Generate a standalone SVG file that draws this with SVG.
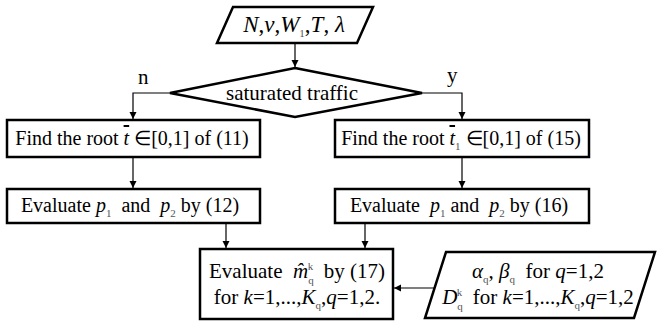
<svg xmlns="http://www.w3.org/2000/svg" width="663" height="327" viewBox="0 0 663 327">
<style>
.shape{fill:#fff;stroke:#000;stroke-width:2.5}
.conn{fill:none;stroke:#000;stroke-width:1.2}
.t{font-size:21px;fill:#000}
.b{font-size:20px}
.it{font-style:italic}
.sub{font-size:11px;fill:#555}
.ov{text-decoration:overline}
</style>
<defs>
<marker id="ah" markerWidth="8" markerHeight="8" refX="7" refY="4" orient="auto" markerUnits="userSpaceOnUse">
<path d="M0,0.5 L7,4 L0,7.5 Z" fill="#000"/>
</marker>
</defs>
<rect width="663" height="327" fill="#fff"/>
<g id="connectors">
<path class="conn" d="M295,43 V67" marker-end="url(#ah)"/>
<path class="conn" d="M170,93 H133 V119" marker-end="url(#ah)"/>
<path class="conn" d="M422,93 H462 V119" marker-end="url(#ah)"/>
<path class="conn" d="M133,158 V188" marker-end="url(#ah)"/>
<path class="conn" d="M462,158 V188" marker-end="url(#ah)"/>
<path class="conn" d="M226,224 V248" marker-end="url(#ah)"/>
<path class="conn" d="M365,224 V248" marker-end="url(#ah)"/>
<path class="conn" d="M441,288 H394" marker-end="url(#ah)"/>
<text class="t" font-family="Liberation Serif" style="font-family:'Liberation Serif',serif" x="138" y="84">n</text>
<text class="t" font-family="Liberation Serif" style="font-family:'Liberation Serif',serif" x="447" y="82">y</text>
</g>
<g id="input">
<polygon class="shape" points="233,7 373,7 357,43 217,43"/>
<text class="t" font-family="Liberation Serif" style="font-family:'Liberation Serif',serif;font-size:23px" x="294" y="32" text-anchor="middle"><tspan class="it">N</tspan>,<tspan class="it">ν</tspan>,<tspan class="it">W</tspan><tspan class="sub" dy="5">1</tspan><tspan dy="-5">,</tspan><tspan class="it">T</tspan>, <tspan class="it">λ</tspan></text>
</g>
<g id="decision">
<polygon class="shape" points="295,68 422,93 295,117 170,93"/>
<text class="t" font-family="Liberation Serif" style="font-family:'Liberation Serif',serif" x="292" y="100" text-anchor="middle">saturated traffic</text>
</g>
<g id="root11">
<rect class="shape" x="7" y="120" width="253" height="37"/>
<text class="t b" font-family="Liberation Serif" style="font-family:'Liberation Serif',serif" x="132" y="145" text-anchor="middle">Find the root <tspan class="it ov">t</tspan> ∈[0,1] of (11)</text>
</g>
<g id="root15">
<rect class="shape" x="335" y="120" width="254" height="37"/>
<text class="t b" font-family="Liberation Serif" style="font-family:'Liberation Serif',serif" x="461" y="145" text-anchor="middle">Find the root <tspan class="it ov">t</tspan><tspan class="sub" dy="5">1</tspan><tspan dy="-5"> ∈[0,1] of (15)</tspan></text>
</g>
<g id="eval12">
<rect class="shape" x="7" y="189" width="253" height="34"/>
<text class="t b" font-family="Liberation Serif" style="font-family:'Liberation Serif',serif" x="130" y="212" text-anchor="middle">Evaluate <tspan class="it">p</tspan><tspan class="sub" dy="5">1</tspan><tspan dy="-5">&#160; and &#160;</tspan><tspan class="it">p</tspan><tspan class="sub" dy="5">2</tspan><tspan dy="-5">&#160;by (12)</tspan></text>
</g>
<g id="eval16">
<rect class="shape" x="335" y="189" width="254" height="34"/>
<text class="t b" font-family="Liberation Serif" style="font-family:'Liberation Serif',serif" x="459" y="212" text-anchor="middle">Evaluate &#160;<tspan class="it">p</tspan><tspan class="sub" dy="5">1</tspan><tspan dy="-5"> and &#160;</tspan><tspan class="it">p</tspan><tspan class="sub" dy="5">2</tspan><tspan dy="-5">&#160;by (16)</tspan></text>
</g>
<g id="eval17">
<rect class="shape" x="200" y="249" width="193" height="70"/>
<text class="t" font-family="Liberation Serif" style="font-family:'Liberation Serif',serif" x="297" y="278" text-anchor="middle">Evaluate &#160;<tspan class="it">m̂</tspan><tspan class="sub" dy="6">q</tspan><tspan class="sub" dx="-6" dy="-14">k</tspan><tspan dy="8">&#160; by (17)</tspan></text>
<text class="t" font-family="Liberation Serif" style="font-family:'Liberation Serif',serif" x="297" y="304" text-anchor="middle">for <tspan class="it">k</tspan>=1,...,<tspan class="it">K</tspan><tspan class="sub" dy="5">q</tspan><tspan dy="-5">,</tspan><tspan class="it">q</tspan>=1,2.</text>
</g>
<g id="params">
<polygon class="shape" points="446,252 655,252 634,318 425,318"/>
<text class="t" font-family="Liberation Serif" style="font-family:'Liberation Serif',serif" x="538" y="278" text-anchor="middle"><tspan class="it">α</tspan><tspan class="sub" dy="5">q</tspan><tspan dy="-5">, </tspan><tspan class="it">β</tspan><tspan class="sub" dy="5">q</tspan><tspan dy="-5">&#160; for </tspan><tspan class="it">q</tspan>=1,2</text>
<text class="t" font-family="Liberation Serif" style="font-family:'Liberation Serif',serif" x="538" y="304" text-anchor="middle"><tspan class="it">D</tspan><tspan class="sub" dy="6">q</tspan><tspan class="sub" dx="-6" dy="-14">k</tspan><tspan dy="8">&#160; for </tspan><tspan class="it">k</tspan>=1,...,<tspan class="it">K</tspan><tspan class="sub" dy="5">q</tspan><tspan dy="-5">,</tspan><tspan class="it">q</tspan>=1,2</text>
</g>
</svg>
